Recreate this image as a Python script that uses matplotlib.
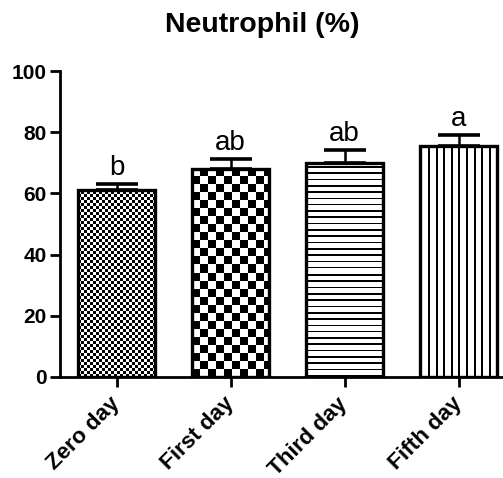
import numpy as np
import matplotlib
matplotlib.use("Agg")
import matplotlib.pyplot as plt
from matplotlib.transforms import ScaledTranslation

# Data
categories = ["Zero day", "First day", "Third day", "Fifth day"]
means = [61, 68, 70, 75.5]
sems = [2, 3.3, 4.3, 3.5]
letters = ["b", "ab", "ab", "a"]
yticks = [0, 20, 40, 60, 80, 100]

plt.rcParams["font.family"] = ["Liberation Sans", "DejaVu Sans"]

W, H = 503, 478
fig = plt.figure(figsize=(W / 100, H / 100), dpi=100)
ax = fig.add_axes([59.5 / W, (H - 377) / H, 456 / W, 306 / H])

x = np.arange(len(categories))
ax.set_xlim(-0.5, 3.5)
ax.set_ylim(0, 100)

bars = ax.bar(x, means, width=0.68, facecolor="none", edgecolor="black",
              linewidth=2.4, zorder=3)
ax.errorbar(x, means, yerr=[np.zeros(len(means)), sems], fmt="none",
            ecolor="black", elinewidth=1.8, capsize=15, capthick=2.6, zorder=2)


# Fill patterns (1 = white, 0 = black), defined on device pixels
def fine_checker(r, c):
    return ((r // 3 + c // 3) % 2).astype(float)


def coarse_checker(r, c):
    return ((r // 8 + c // 8) % 2).astype(float)


def horizontal_lines(r, c):
    return (np.mod(r + 0.0 * c, 6.3) >= 1.6).astype(float)


def vertical_lines(r, c):
    return (np.mod(c + 0.0 * r, 7.6) >= 2.0).astype(float)


patterns = [fine_checker, coarse_checker, horizontal_lines, vertical_lines]

for bar, pat in zip(bars, patterns):
    x0, y0 = bar.get_x(), bar.get_y()
    x1, y1 = x0 + bar.get_width(), y0 + bar.get_height()
    (px0, py0), (px1, py1) = ax.transData.transform([(x0, y0), (x1, y1)])
    nw, nh = int(round(px1 - px0)), int(round(py1 - py0))
    rr, cc = np.mgrid[0:nh, 0:nw]
    img = pat(rr, cc)
    im = ax.imshow(img, extent=(x0, x1, y0, y1), origin="lower", cmap="gray",
                   vmin=0, vmax=1, interpolation="nearest", aspect="auto",
                   zorder=2.5)
    im.set_clip_path(bar)

ax.set_xlim(-0.5, 3.5)
ax.set_ylim(0, 100)

for xi, m, s, lab in zip(x, means, sems, letters):
    ax.annotate(lab, (xi, m + s), xytext=(0, 6.5), textcoords="offset points",
                ha="center", va="baseline", fontsize=20)

ax.set_xticks(x)
ax.set_xticklabels(categories, rotation=45, ha="right", va="center",
                   rotation_mode="anchor", fontsize=16.2, fontweight="bold")
shift = ScaledTranslation(14 / 100, -2 / 100, fig.dpi_scale_trans)
for lbl in ax.get_xticklabels():
    lbl.set_transform(lbl.get_transform() + shift)
ax.set_yticks(yticks)
ax.set_yticklabels([str(t) for t in yticks], fontsize=15, fontweight="bold")
ax.tick_params(axis="both", length=7, width=2, direction="out", pad=2)
ax.tick_params(axis="x", pad=10)

for side in ("top", "right"):
    ax.spines[side].set_visible(False)
for side in ("left", "bottom"):
    ax.spines[side].set_linewidth(2)

fig.text(262.5 / W, 1 - 32 / H, "Neutrophil (%)", ha="center", va="baseline",
         fontsize=20.5, fontweight="bold")

fig.savefig("out.png", dpi=100)
